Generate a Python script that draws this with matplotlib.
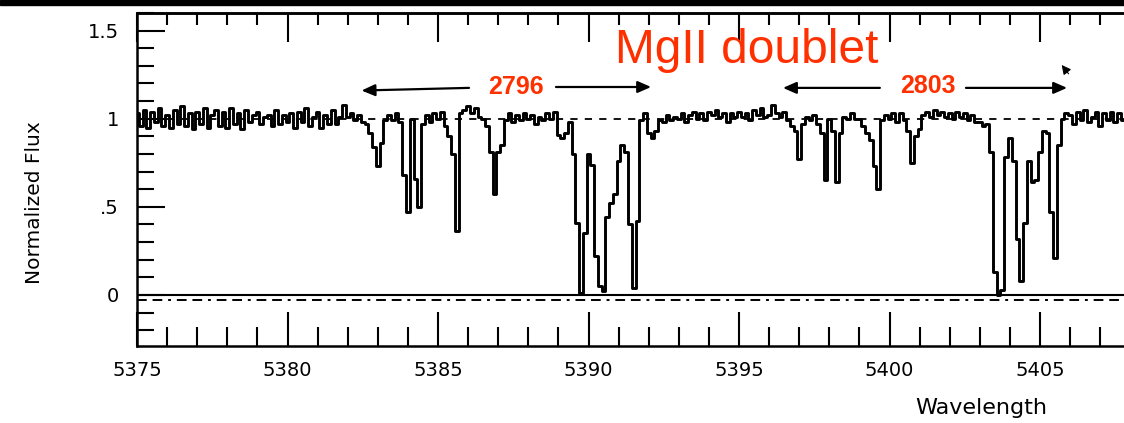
import numpy as np
import matplotlib.pyplot as plt
from matplotlib.ticker import MultipleLocator

# normalized flux, 8 pixels per Angstrom starting at 5375.0 (one row per Angstrom)
flux = [
    1.03, 0.96, 1.05, 0.95, 1.04, 0.98, 1.06, 0.96,   # 5375
    1.02, 0.95, 1.05, 0.97, 1.07, 0.96, 1.03, 0.94,   # 5376
    1.04, 0.97, 1.06, 0.95, 1.02, 1.05, 0.96, 1.04,   # 5377
    0.95, 1.06, 0.97, 1.03, 0.94, 1.05, 0.98, 1.02,   # 5378
    1.04, 0.97, 1.01, 1.02, 0.96, 1.05, 0.97, 1.02,   # 5379
    0.98, 1.03, 0.95, 1.04, 0.98, 1.06, 0.96, 1.01,   # 5380
    1.04, 0.95, 1.02, 0.97, 1.05, 0.97, 1.01, 1.08,   # 5381
    1.01, 1.03, 0.99, 1.02, 0.98, 0.97, 0.92, 0.84,   # 5382
    0.73, 0.86, 0.99, 1.02, 0.99, 1.03, 0.98, 0.68,   # 5383
    0.47, 1.00, 0.66, 0.50, 0.97, 1.02, 0.98, 1.03,   # 5384
    1.00, 1.04, 0.96, 0.90, 0.80, 0.36, 1.03, 1.05,   # 5385
    1.07, 1.03, 1.06, 1.01, 1.00, 0.96, 0.81, 0.57,   # 5386
    0.81, 0.85, 0.99, 1.03, 0.98, 1.02, 0.99, 1.03,   # 5387
    1.00, 1.02, 0.97, 1.01, 0.99, 1.03, 1.00, 1.04,   # 5388
    0.91, 0.89, 0.92, 0.98, 0.80, 0.41, 0.01, 0.35,   # 5389
    0.80, 0.74, 0.22, 0.05, 0.02, 0.44, 0.52, 0.57,   # 5390
    0.76, 0.85, 0.81, 0.40, 0.04, 0.42, 0.99, 1.03,   # 5391
    0.92, 0.89, 0.93, 0.99, 0.98, 1.02, 0.99, 1.01,   # 5392
    1.00, 1.03, 0.98, 1.02, 1.04, 1.00, 1.03, 0.99,   # 5393
    1.04, 1.02, 1.05, 1.01, 1.03, 0.98, 1.03, 1.01,   # 5394
    1.04, 1.01, 1.03, 0.99, 1.05, 1.02, 1.06, 1.01,   # 5395
    1.02, 1.08, 1.03, 1.01, 1.04, 0.99, 0.96, 0.93,   # 5396
    0.77, 0.97, 1.01, 0.99, 1.02, 0.97, 0.92, 0.65,   # 5397
    1.00, 0.93, 0.64, 0.92, 1.01, 1.00, 1.03, 1.00,   # 5398
    1.00, 0.96, 0.92, 0.88, 0.73, 0.60, 0.99, 1.02,   # 5399
    1.00, 1.03, 0.98, 1.03, 0.99, 0.93, 0.75, 0.90,   # 5400
    0.94, 1.02, 1.04, 1.01, 1.05, 1.02, 1.04, 1.01,   # 5401
    1.03, 1.00, 1.04, 1.01, 1.03, 0.99, 1.02, 0.98,   # 5402
    0.98, 0.96, 0.97, 0.81, 0.13, 0.00, 0.03, 0.78,   # 5403
    0.89, 0.76, 0.32, 0.08, 0.41, 0.76, 0.64, 0.65,   # 5404
    0.81, 0.93, 0.92, 0.47, 0.21, 0.85, 1.00, 1.03,   # 5405
    1.02, 0.97, 1.04, 0.99, 1.05, 0.98, 1.01, 1.04,   # 5406
    0.96, 1.03, 0.99, 1.04, 0.98, 1.03, 0.99, 0.97,   # 5407
]
wave_start = 5375.0
wave_step = 0.125
wave = wave_start + wave_step * np.arange(len(flux))

xticks = [5375, 5380, 5385, 5390, 5395, 5400, 5405]
yticks = [0, 0.5, 1, 1.5]
ytick_labels = ["0", ".5", "1", "1.5"]

red = "#ff3000"
W, H = 1124, 423

fig = plt.figure(figsize=(W / 100, H / 100), dpi=100)
# axes box runs past the right edge of the picture, as in the reference
ax = fig.add_axes([137 / W, (H - 346) / H, 1053.5 / W, 333 / H])
ax.set_xlim(5375, 5410)
ax.set_ylim(-0.29, 1.60)

# reference lines: continuum, zero level and the dash-dot error level
ax.axhline(1.0, color="black", lw=1.3, linestyle=(0, (4, 4)), zorder=1)
ax.axhline(0.0, color="black", lw=1.5, zorder=1)
ax.axhline(-0.03, color="black", lw=1.4, linestyle=(0, (5, 3, 5, 3, 1.5, 3)), zorder=1)

ax.plot(wave, flux, drawstyle="steps-mid", color="black", lw=2.1, zorder=3)

for s in ax.spines.values():
    s.set_linewidth(1.8)
ax.spines["right"].set_visible(False)

ax.set_xticks(xticks)
ax.xaxis.set_minor_locator(MultipleLocator(1))
ax.set_yticks(yticks)
ax.set_yticklabels(ytick_labels)
ax.yaxis.set_minor_locator(MultipleLocator(0.1))
ax.tick_params(axis="x", which="major", direction="in", length=24.5, width=1.5,
               pad=11, labelsize=14)
ax.tick_params(axis="x", which="minor", direction="in", length=13.7, width=1.5)
ax.tick_params(axis="y", which="major", direction="in", length=20, width=1.5,
               pad=13, labelsize=14)
ax.tick_params(axis="y", which="minor", direction="in", length=12.2, width=1.5)

top = ax.secondary_xaxis("top")
top.set_xticks(xticks)
top.xaxis.set_minor_locator(MultipleLocator(1))
top.tick_params(which="major", direction="in", length=21, width=1.5, labeltop=False)
top.tick_params(which="minor", direction="in", length=8.6, width=1.5)
top.spines["top"].set_linewidth(1.8)

fig.text(35 / W, 1 - 203 / H, "Normalized Flux", rotation=90, fontsize=14.5,
         ha="center", va="center")
fig.text(981 / W, 1 - 408 / H, "Wavelength", fontsize=16, ha="center", va="center")

# annotations
ax.text(5395.25, 1.39, "MgII doublet", color=red, fontsize=34.5,
        family="Liberation Sans", ha="center", va="center")
ax.text(5387.6, 1.18, "2796", color=red, fontsize=18, fontweight="bold",
        family="Liberation Sans", ha="center", va="center")
ax.text(5401.28, 1.185, "2803", color=red, fontsize=18, fontweight="bold",
        family="Liberation Sans", ha="center", va="center")

arrow = dict(arrowstyle="-|>,head_length=0.8,head_width=0.35", color="black",
             lw=1.6, shrinkA=0, shrinkB=0)
ax.annotate("", xy=(5382.46, 1.16), xytext=(5386.03, 1.175), arrowprops=arrow)
ax.annotate("", xy=(5392.08, 1.18), xytext=(5388.92, 1.18), arrowprops=arrow)
ax.annotate("", xy=(5396.46, 1.175), xytext=(5399.68, 1.175), arrowprops=arrow)
ax.annotate("", xy=(5405.9, 1.175), xytext=(5402.54, 1.175), arrowprops=arrow)
ax.annotate("", xy=(5405.72, 1.305), xytext=(5405.95, 1.255),
            arrowprops=dict(arrowstyle="-|>,head_length=0.55,head_width=0.28",
                            color="black", lw=0.8, shrinkA=0, shrinkB=0))

# black band along the top edge of the picture
fig.patches.append(plt.Rectangle((0, 1 - 5 / H), 1, 5 / H, transform=fig.transFigure,
                                 color="black", zorder=0))

fig.savefig("out.png", dpi=100)
